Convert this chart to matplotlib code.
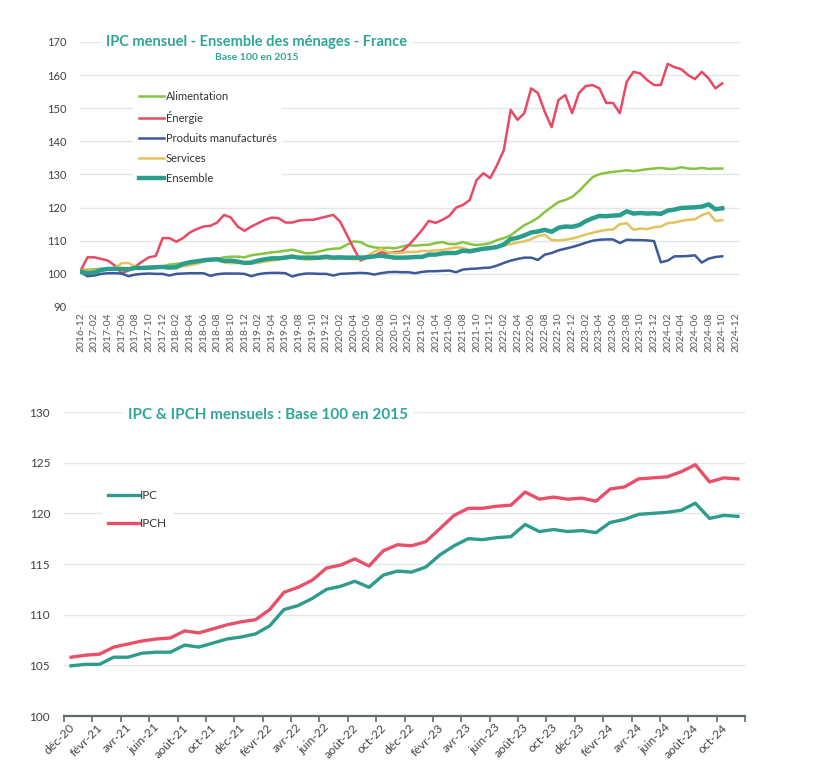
import matplotlib
matplotlib.use("Agg")
import matplotlib.pyplot as plt
import numpy as np

plt.rcParams['font.family'] = ['Lato', 'DejaVu Sans']

# ---------------- DATA : top chart (monthly, 2016-12 .. 2024-10) ----------------
top_tick_labels = [
    "2016-12", "2017-02", "2017-04", "2017-06", "2017-08", "2017-10", "2017-12",
    "2018-02", "2018-04", "2018-06", "2018-08", "2018-10", "2018-12",
    "2019-02", "2019-04", "2019-06", "2019-08", "2019-10", "2019-12",
    "2020-02", "2020-04", "2020-06", "2020-08", "2020-10", "2020-12",
    "2021-02", "2021-04", "2021-06", "2021-08", "2021-10", "2021-12",
    "2022-02", "2022-04", "2022-06", "2022-08", "2022-10", "2022-12",
    "2023-02", "2023-04", "2023-06", "2023-08", "2023-10", "2023-12",
    "2024-02", "2024-04", "2024-06", "2024-08", "2024-10", "2024-12",
]

alimentation = [
    101.3, 101.2, 101.4, 101.5, 101.5, 101.5, 101.3, 101.5, 101.8, 101.8,
    101.8, 102.0, 102.2, 102.8, 103.0, 103.2, 103.5, 103.8, 104.0, 104.0,
    104.5, 105.0, 105.2, 105.2, 105.0, 105.6, 105.9, 106.2, 106.5, 106.7,
    107.0, 107.3, 106.8, 106.2, 106.3, 106.8, 107.3, 107.6, 107.7, 108.8,
    109.8, 109.6, 108.5, 108.0, 107.8, 107.9, 107.7, 108.2, 108.7, 108.5,
    108.7, 108.8, 109.3, 109.6, 109.0, 109.0, 109.6, 109.0, 108.7, 108.9,
    109.3, 110.2, 110.8, 111.6, 113.2, 114.7, 115.7, 116.9, 118.7, 120.2,
    121.7, 122.3, 123.2, 125.0, 127.1, 129.2, 130.1, 130.5, 130.8, 131.0,
    131.3, 131.0, 131.3, 131.6, 131.8, 132.0, 131.7, 131.7, 132.2, 131.8,
    131.7, 132.0, 131.7, 131.8, 131.8,
]

energie = [
    101.0, 105.0, 105.0, 104.5, 104.0, 102.5, 100.2, 101.0, 102.2, 103.7,
    105.0, 105.4, 110.8, 110.8, 109.7, 110.8, 112.5, 113.5, 114.3, 114.5,
    115.5, 117.8, 117.0, 114.3, 113.0, 114.3, 115.3, 116.3, 117.0, 116.8,
    115.5, 115.5, 116.1, 116.3, 116.3, 116.8, 117.3, 117.8, 115.8, 111.8,
    107.7, 104.0, 105.0, 105.5, 106.5, 106.3, 106.5, 106.8, 108.5, 110.8,
    113.2, 116.0, 115.4, 116.3, 117.5, 120.0, 120.8, 122.3, 128.3, 130.4,
    128.9, 132.8, 137.4, 149.5, 146.5, 148.5, 156.0, 154.6, 148.9, 144.3,
    152.5, 154.0, 148.5, 154.6, 156.7, 157.0, 156.0, 151.6, 151.6, 148.5,
    158.0, 161.0, 160.5, 158.5, 157.0, 157.0, 163.4, 162.4, 161.8, 160.0,
    158.8, 161.0, 159.0, 156.0, 157.5,
]

manufactures = [
    100.5, 99.3, 99.5, 100.0, 100.2, 100.2, 100.1, 99.3, 99.8, 100.0,
    100.1, 100.0, 100.0, 99.5, 100.0, 100.1, 100.2, 100.2, 100.2, 99.4,
    99.9, 100.1, 100.1, 100.1, 100.0, 99.3, 99.9, 100.2, 100.3, 100.3,
    100.2, 99.2, 99.8, 100.1, 100.1, 100.0, 100.0, 99.5, 100.0, 100.1,
    100.2, 100.3, 100.2, 99.8, 100.2, 100.5, 100.6, 100.5, 100.5, 100.2,
    100.6, 100.8, 100.8, 100.9, 101.0, 100.5, 101.3, 101.5, 101.6, 101.8,
    101.9, 102.5, 103.3, 104.0, 104.5, 104.9, 104.9, 104.2, 105.8, 106.3,
    107.1, 107.6, 108.1, 108.7, 109.4, 110.0, 110.3, 110.4, 110.4, 109.3,
    110.3, 110.2, 110.2, 110.1, 109.9, 103.5, 104.0, 105.3, 105.3, 105.4,
    105.6, 103.4, 104.6, 105.1, 105.3,
]

services = [
    101.0, 100.8, 101.0, 101.2, 101.4, 101.8, 103.2, 103.3, 102.2, 101.6,
    101.5, 101.8, 102.0, 101.8, 102.0, 102.3, 102.6, 103.0, 103.7, 104.5,
    104.5, 103.5, 103.2, 103.3, 103.4, 103.2, 103.3, 103.7, 104.0, 104.3,
    105.3, 105.6, 104.6, 104.3, 104.4, 104.6, 104.7, 104.5, 104.6, 104.6,
    104.4, 104.5, 105.5, 106.7, 107.5, 106.5, 106.2, 106.4, 106.6, 106.6,
    106.9, 106.9, 107.1, 107.2, 107.6, 108.0, 107.8, 107.2, 107.3, 107.5,
    108.0, 108.2, 108.5, 109.0, 109.5, 109.8, 110.5, 111.4, 111.8, 110.2,
    110.1, 110.3, 110.7, 111.2, 111.9, 112.4, 112.9, 113.3, 113.4, 115.0,
    115.3, 113.3, 113.7, 113.5, 114.1, 114.3, 115.3, 115.5, 116.0, 116.3,
    116.5, 117.7, 118.5, 116.0, 116.2,
]

ensemble = [
    100.6, 100.2, 100.4, 101.2, 101.5, 101.5, 101.5, 101.4, 101.8, 101.8,
    101.9, 102.0, 102.1, 101.9, 102.0, 103.0, 103.5, 103.8, 104.1, 104.3,
    104.4, 103.9, 104.0, 103.7, 103.3, 103.4, 104.0, 104.4, 104.7, 104.7,
    104.9, 105.2, 104.9, 104.9, 104.9, 104.9, 105.2, 104.9, 105.0, 104.9,
    104.9, 104.9, 105.0, 105.3, 105.5, 105.2, 104.9, 104.9, 104.95, 105.1,
    105.1, 105.8, 105.8, 106.2, 106.3, 106.3, 107.0, 106.8, 107.2, 107.6,
    107.8, 108.1, 108.9, 110.5, 110.9, 111.6, 112.5, 112.8, 113.3, 112.7,
    113.9, 114.3, 114.2, 114.7, 115.9, 116.8, 117.5, 117.4, 117.6, 117.7,
    118.9, 118.2, 118.4, 118.2, 118.3, 118.1, 119.1, 119.4, 119.9, 120.0,
    120.1, 120.3, 121.0, 119.5, 119.8,
]

# ---------------- DATA : bottom chart (monthly, déc-20 .. nov-24) ----------------
bottom_tick_labels = [
    "déc-20", "févr-21", "avr-21", "juin-21", "août-21", "oct-21",
    "déc-21", "févr-22", "avr-22", "juin-22", "août-22", "oct-22",
    "déc-22", "févr-23", "avr-23", "juin-23", "août-23", "oct-23",
    "déc-23", "févr-24", "avr-24", "juin-24", "août-24", "oct-24",
]

ipc = [
    104.95, 105.1, 105.1, 105.8, 105.8, 106.2, 106.3, 106.3, 107.0, 106.8,
    107.2, 107.6, 107.8, 108.1, 108.9, 110.5, 110.9, 111.6, 112.5, 112.8,
    113.3, 112.7, 113.9, 114.3, 114.2, 114.7, 115.9, 116.8, 117.5, 117.4,
    117.6, 117.7, 118.9, 118.2, 118.4, 118.2, 118.3, 118.1, 119.1, 119.4,
    119.9, 120.0, 120.1, 120.3, 121.0, 119.5, 119.8, 119.7,
]

ipch = [
    105.8, 106.0, 106.1, 106.8, 107.1, 107.4, 107.6, 107.7, 108.4, 108.2,
    108.6, 109.0, 109.3, 109.5, 110.5, 112.2, 112.7, 113.4, 114.6, 114.9,
    115.5, 114.8, 116.3, 116.9, 116.8, 117.2, 118.5, 119.8, 120.5, 120.5,
    120.7, 120.8, 122.1, 121.4, 121.6, 121.4, 121.5, 121.2, 122.4, 122.6,
    123.4, 123.5, 123.6, 124.1, 124.8, 123.1, 123.5, 123.4,
]

# ---------------- STYLE ----------------
C_GREEN = '#86c440'
C_RED = '#e84a64'
C_BLUE = '#3b5a9a'
C_YELLOW = '#e5c25b'
C_TEAL = '#2a9d8c'
C_TITLE = '#2fa695'
C_GRID = '#e2e6e6'
C_TXT = '#404040'

W, H = 827, 780
fig = plt.figure(figsize=(W / 100, H / 100), dpi=100)


def rect(l, t, r, b):
    return [l / W, 1 - b / H, (r - l) / W, (b - t) / H]


# ================= TOP CHART =================
ax1 = fig.add_axes(rect(80, 42, 740, 307))
x1 = np.arange(len(ensemble))
ax1.plot(x1, alimentation, color=C_GREEN, lw=1.8, label='Alimentation')
ax1.plot(x1, energie, color=C_RED, lw=1.8, label='Énergie')
ax1.plot(x1, manufactures, color=C_BLUE, lw=1.8, label='Produits manufacturés')
ax1.plot(x1, services, color=C_YELLOW, lw=1.8, label='Services')
ax1.plot(x1, ensemble, color=C_TEAL, lw=3.2, label='Ensemble')

ax1.set_xlim(-0.1, 96.6)
ax1.set_ylim(90, 170)
ax1.set_yticks(np.arange(90, 171, 10))
ax1.set_xticks(np.arange(0, 2 * len(top_tick_labels), 2))
ax1.set_xticklabels(top_tick_labels, rotation=90, fontsize=7.5, color='#595959')
ax1.grid(axis='y', color=C_GRID, lw=1.0)
ax1.set_axisbelow(True)
for s in ax1.spines.values():
    s.set_visible(False)
ax1.tick_params(axis='both', length=0)
ax1.tick_params(axis='y', pad=10, labelsize=8, labelcolor=C_TXT)
ax1.tick_params(axis='x', pad=4)

leg1 = ax1.legend(loc='upper left', bbox_to_anchor=(133 / W, 1 - 85 / H),
                  bbox_transform=fig.transFigure, frameon=True, fancybox=False,
                  facecolor='white', edgecolor='none', framealpha=1,
                  fontsize=8, handlelength=2.3, handletextpad=0.15,
                  labelspacing=0.82, borderpad=0.5, borderaxespad=0)
for t in leg1.get_texts():
    t.set_color('#333333')

fig.text(257 / W, 1 - 42 / H, 'IPC mensuel - Ensemble des ménages - France',
         ha='center', va='center', fontsize=10.5, fontweight='bold', color=C_TITLE,
         bbox=dict(facecolor='white', edgecolor='none', pad=3))
fig.text(257 / W, 1 - 57 / H, 'Base 100 en 2015',
         ha='center', va='center', fontsize=7.5, fontweight='bold', color=C_TITLE)

# ================= BOTTOM CHART =================
ax2 = fig.add_axes(rect(64, 412, 745, 716))
x2 = np.arange(len(ipc)) + 0.5
ax2.plot(x2, ipc, color='#2e9c8c', lw=2.4, label='IPC')
ax2.plot(x2, ipch, color='#e8506a', lw=2.4, label='IPCH')

ax2.set_xlim(0, 48)
ax2.set_ylim(100, 130)
ax2.set_yticks(np.arange(100, 131, 5))
ax2.grid(axis='y', color=C_GRID, lw=1.0)
ax2.set_axisbelow(True)
for k in ('top', 'right', 'left'):
    ax2.spines[k].set_visible(False)
ax2.spines['bottom'].set_color('#5f6d6d')
ax2.spines['bottom'].set_linewidth(1.6)

ax2.set_xticks(np.arange(0, 49, 2))
ax2.set_xticklabels([])
ax2.set_xticks(np.arange(0, 2 * len(bottom_tick_labels), 2) + 0.6, minor=True)
ax2.set_xticklabels(bottom_tick_labels, minor=True, rotation=45, ha='right',
                    va='center', rotation_mode='anchor', fontsize=8.8,
                    color='#454545')
ax2.tick_params(axis='x', which='major', length=4, width=1.2, color='#5f6d6d',
                direction='out')
ax2.tick_params(axis='x', which='minor', length=0, pad=7)
ax2.tick_params(axis='y', length=0, pad=10, labelsize=8.5, labelcolor=C_TXT)

leg2 = ax2.legend(loc='upper left', bbox_to_anchor=(102 / W, 1 - 484 / H),
                  bbox_transform=fig.transFigure, frameon=True, fancybox=False,
                  facecolor='white', edgecolor='none', framealpha=1,
                  fontsize=8.5, handlelength=2.6, handletextpad=0.15,
                  labelspacing=1.45, borderpad=0.5, borderaxespad=0)
for t in leg2.get_texts():
    t.set_color('#333333')

fig.text(268 / W, 1 - 415 / H, 'IPC & IPCH mensuels : Base 100 en 2015',
         ha='center', va='center', fontsize=11, fontweight='bold', color=C_TITLE,
         bbox=dict(facecolor='white', edgecolor='none', pad=4))

fig.savefig('out.png', dpi=100)
